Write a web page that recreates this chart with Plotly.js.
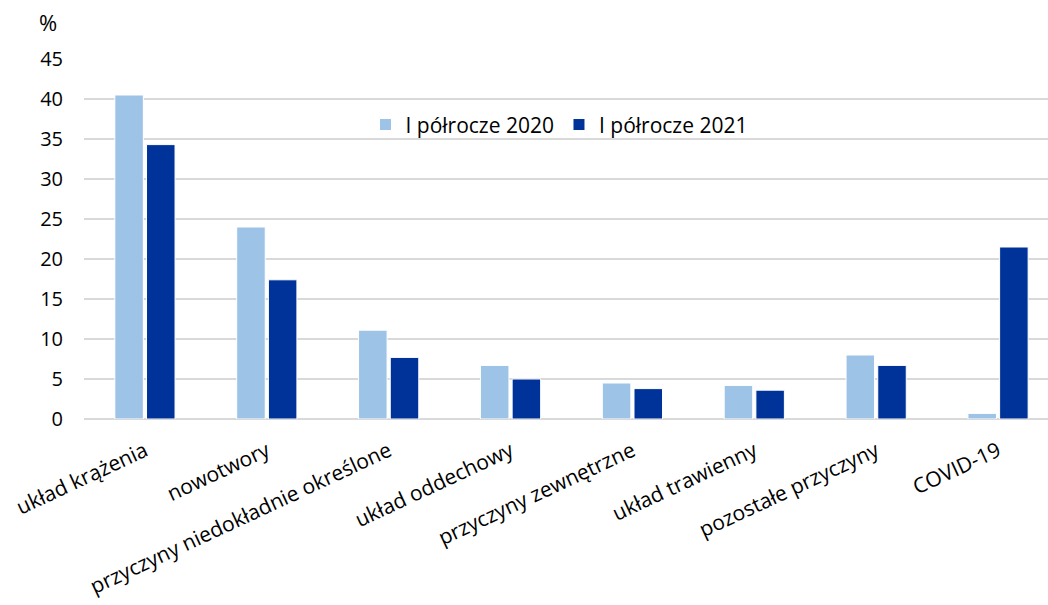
<!DOCTYPE html>
<html>
<head>
<meta charset="utf-8">
<script src="https://cdn.plot.ly/plotly-3.0.1.min.js"></script>
<style>html,body{margin:0;padding:0;background:#fff;}#chart{width:1048px;height:605px;}</style>
</head>
<body>
<div id="chart"></div>
<script>
const categories = ["układ krążenia","nowotwory","przyczyny niedokładnie określone","układ oddechowy","przyczyny zewnętrzne","układ trawienny","pozostałe przyczyny","COVID-19"];
const seriesNames = ["I półrocze 2020","I półrocze 2021"];
const values2020 = [40.5,24.0,11.1,6.7,4.5,4.2,8.0,0.7];
const values2021 = [34.3,17.4,7.7,5.0,3.8,3.6,6.7,21.5];
const yTicks = [0,5,10,15,20,25,30,35,40,45];

const fam = "Open Sans, Liberation Sans, sans-serif";
const font = {family:fam, size:21, color:"#000"};
const yfont = {family:fam, size:20, color:"#000"};
const traces = [
  {type:"bar", name:seriesNames[0], x:categories, y:values2020, marker:{color:"#9dc3e6", line:{width:1, color:"#ffffff"}}},
  {type:"bar", name:seriesNames[1], x:categories, y:values2021, marker:{color:"#003399", line:{width:1, color:"#ffffff"}}}
];
const layout = {
  width:1048, height:605,
  margin:{l:84, r:0, t:59, b:185.5},
  paper_bgcolor:"#fff", plot_bgcolor:"#fff",
  font:font,
  barmode:"group", bargap:0.48, bargroupgap:0.1,
  showlegend:true,
  legend:{orientation:"h", x:0.292, y:0.817, xanchor:"left", yanchor:"middle", font:font, bgcolor:"rgba(0,0,0,0)", traceorder:"normal", itemwidth:30},
  xaxis:{type:"category", range:[-0.5, 7.41], tickangle:-25, tickfont:font, showgrid:false, zeroline:false, showline:false, ticks:"", ticklabelstandoff:15, automargin:false},
  yaxis:{range:[0,45], tickvals:yTicks, ticktext:yTicks.map(String), tickfont:yfont, showgrid:true, gridcolor:"#d9d9d9", gridwidth:2, zeroline:true, zerolinecolor:"#d9d9d9", zerolinewidth:2, showline:false, ticks:"", ticklen:0, ticklabelstandoff:20, automargin:false},
  annotations:[{text:"%", xref:"paper", yref:"paper", x:-0.037, y:1.103, xanchor:"center", yanchor:"middle", showarrow:false, font:{family:fam, size:22, color:"#000"}}]
};
Plotly.newPlot("chart", traces, layout, {staticPlot:true, displayModeBar:false});
</script>
</body>
</html>
